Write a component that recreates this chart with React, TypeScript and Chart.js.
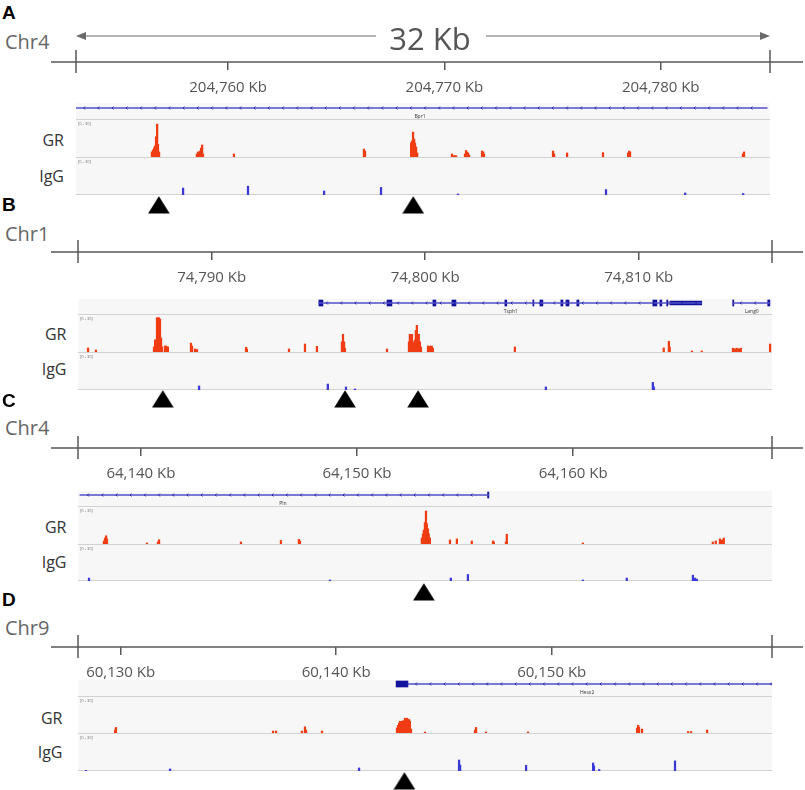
import React, { useEffect, useRef } from "react";
import { Chart, registerables } from "chart.js";

Chart.register(...registerables);

type Pt = [number, number];
type Seg = [number, number];

// ---------------- Panel A : Chr4 ----------------
const rangeA: Seg = [204752.97, 204785.05];
const ticksA = [204760, 204770, 204780];
const grA: Pt[] = [
  [204756.48, 4], [204756.53, 5.5], [204756.58, 7], [204756.62, 8.7], [204756.67, 16], [204756.72, 26], [204756.76, 10], [204756.81, 4],
  [204758.56, 2.4], [204758.61, 4], [204758.66, 3.2], [204758.70, 4.7], [204758.75, 7], [204758.80, 9.5], [204758.84, 2.4],
  [204760.27, 2.4],
  [204766.28, 6.3], [204766.33, 4.7],
  [204768.46, 11], [204768.50, 12.6], [204768.55, 19.7], [204768.60, 14.2], [204768.64, 11], [204768.69, 7.9], [204768.74, 3.2],
  [204770.35, 2.4], [204770.45, 1.2], [204770.54, 1],
  [204770.95, 2.4], [204771.00, 5.1], [204771.04, 4], [204771.09, 3.2], [204771.14, 1.6],
  [204771.74, 4.7], [204771.79, 4], [204771.83, 2.4],
  [204775.02, 4.7], [204775.07, 2.4],
  [204775.67, 3.2],
  [204777.33, 3.5],
  [204778.49, 3.2], [204778.54, 4.7], [204778.58, 4],
  [204783.80, 2.4], [204783.85, 4],
];
const iggA: Pt[] = [
  [204757.92, 5.5], [204760.92, 7], [204764.44, 3.2], [204767.07, 6],
  [204770.63, 0.8], [204777.47, 4.3], [204781.13, 1.6], [204783.81, 1.2],
];
const sitesA = [204756.62, 204768.55];
const intronsA: Seg[] = [[204752.97, 204784.92]];
const exonsA: Seg[] = [];
const utrsA: Seg[] = [];
const namesA: [string, number][] = [["Bpr1", 204768.87]];

// ---------------- Panel B : Chr1 ----------------
const rangeB: Seg = [74783.74, 74816.24];
const ticksB = [74790, 74800, 74810];
const grB: Pt[] = [
  [74784.21, 3.2], [74784.58, 1.6],
  [74787.30, 4], [74787.35, 9.5], [74787.39, 9.5], [74787.44, 27], [74787.49, 27], [74787.53, 27], [74787.58, 26], [74787.63, 11], [74787.67, 4],
  [74787.81, 4.7], [74787.86, 4.7], [74787.91, 4], [74787.95, 4],
  [74789.03, 7], [74789.08, 4.7], [74789.22, 2.4], [74789.31, 2],
  [74791.61, 3.7], [74791.65, 2.4],
  [74793.62, 2.4],
  [74794.37, 6.3],
  [74794.93, 4.5],
  [74796.10, 8], [74796.15, 14], [74796.20, 8], [74796.24, 3],
  [74798.21, 2.4],
  [74799.24, 8], [74799.28, 14], [74799.33, 12], [74799.38, 14], [74799.42, 8], [74799.47, 5], [74799.52, 9.5],
  [74799.56, 17], [74799.61, 21], [74799.66, 12], [74799.70, 14], [74799.75, 8], [74799.80, 4],
  [74800.13, 4.7], [74800.22, 4.7], [74800.31, 4.7], [74800.36, 3],
  [74804.20, 4],
  [74811.17, 3.2], [74811.41, 8.5], [74811.45, 4],
  [74812.49, 0.8], [74812.95, 0.8],
  [74814.41, 3], [74814.50, 2.5], [74814.59, 3], [74814.69, 2.5], [74814.78, 3],
  [74816.15, 6.3],
];
const iggB: Pt[] = [
  [74789.41, 3.2], [74795.44, 4.7], [74796.29, 2.4], [74796.71, 0.8],
  [74805.65, 2.4], [74810.66, 6], [74810.71, 2.4],
];
const sitesB = [74787.53, 74796.19, 74799.66];
const intronsB: Seg[] = [[74795.02, 74812.95], [74814.40, 74816.14]];
const exonsB: Seg[] = [
  [74795.02, 74795.21], [74798.21, 74798.44], [74800.36, 74800.50], [74801.25, 74801.44], [74803.73, 74803.82],
  [74805.04, 74805.09], [74805.37, 74805.51], [74806.35, 74806.45], [74806.59, 74806.73], [74807.10, 74807.20],
  [74810.66, 74810.85], [74810.99, 74811.08], [74811.31, 74811.36], [74814.40, 74814.45], [74816.04, 74816.14],
];
const utrsB: Seg[] = [[74811.46, 74812.95]];
const namesB: [string, number][] = [["Tsph1", 74804.01], ["Lang0", 74815.29]];

// ---------------- Panel C : Chr4 ----------------
const rangeC: Seg = [64137.09, 64169.2];
const ticksC = [64140, 64150, 64160];
const grC: Pt[] = [
  [64138.29, 2.4], [64138.34, 4.7], [64138.39, 6.5], [64138.43, 4],
  [64140.28, 0.8],
  [64140.79, 1.6], [64140.84, 3.4],
  [64144.63, 1.6],
  [64146.48, 2.8],
  [64147.31, 3.7], [64147.36, 2.4],
  [64153.00, 4.7], [64153.05, 8], [64153.09, 11], [64153.14, 17], [64153.19, 26], [64153.23, 16], [64153.28, 12], [64153.32, 8], [64153.37, 4.7],
  [64154.30, 3.2], [64154.62, 4],
  [64155.31, 2.4],
  [64156.29, 2.4], [64156.33, 1.6],
  [64156.89, 1.6], [64156.93, 7.7],
  [64160.45, 0.8],
  [64166.46, 1.6], [64166.60, 2.4], [64166.79, 4], [64166.88, 3.2], [64166.97, 4.7],
];
const iggC: Pt[] = [
  [64137.60, 2.4], [64148.75, 0.8], [64154.34, 2.4], [64155.13, 5.3], [64160.45, 0.8],
  [64162.48, 2.4], [64165.54, 4.7], [64165.63, 2.4], [64165.72, 1.6],
];
const sitesC = [64153.09];
const intronsC: Seg[] = [[64137.18, 64156.10]];
const exonsC: Seg[] = [[64156.04, 64156.10]];
const utrsC: Seg[] = [];
const namesC: [string, number][] = [["Pln", 64146.57]];

// ---------------- Panel D : Chr9 ----------------
const rangeD: Seg = [60128.02, 60160.22];
const ticksD = [60130, 60140, 60150];
const grD: Pt[] = [
  [60129.74, 2.4], [60129.78, 4.5],
  [60137.07, 1.6], [60137.21, 1.6],
  [60138.41, 1.6], [60138.55, 5], [60138.60, 2.4],
  [60139.34, 1.6],
  [60142.82, 4], [60142.87, 6.3], [60142.92, 8], [60142.96, 9.5], [60143.01, 8.7], [60143.05, 9.5], [60143.10, 10], [60143.15, 8.7],
  [60143.19, 12], [60143.24, 11], [60143.29, 12], [60143.33, 9.5], [60143.38, 11], [60143.42, 9.5], [60143.47, 3.2],
  [60144.12, 0.8],
  [60146.44, 2.4], [60146.49, 4.5],
  [60146.95, 0.8],
  [60148.90, 0.8],
  [60153.96, 4], [60154.01, 6.3], [60154.05, 4.7], [60154.19, 3.2],
  [60156.33, 1.2], [60156.47, 1.2],
  [60157.21, 2.4],
];
const iggD: Pt[] = [
  [60128.39, 0.5], [60132.29, 1.6], [60141.06, 2.4], [60145.70, 8.7], [60145.75, 4.7],
  [60148.81, 4.5], [60151.92, 6.3], [60151.96, 4], [60152.20, 1.2], [60155.72, 8],
];
const sitesD = [60143.15];
const intronsD: Seg[] = [[60143.33, 60160.36]];
const exonsD: Seg[] = [[60142.78, 60143.33]];
const utrsD: Seg[] = [];
const namesD: [string, number][] = [["Hesx2", 60151.64]];

const trackRangeLabel = "[0 - 30]";
const trackMax = 30;
const spanLabel = "32 Kb";

// ---------------- styles / layout ----------------
const FONT = "'Open Sans', 'DejaVu Sans', sans-serif";
const RULER = "#585858";
const GR_COLOR = "#f03c14";
const IGG_COLOR = "#3a3ad8";
const GENE_LINE = "#5050c8";
const GENE_EXON = "#12129c";
const TRACK_BG = "#f7f7f7";
const TRACK_LINE = "#d2d2d2";

interface Layout {
  letter: string; letterTop: number;
  chrTop: number;
  x0: number; x1: number;
  rulerY: number;
  geneTop: number; geneLineY: number;
  grTop: number; iggTop: number; iggBottom: number;
  triTop: number;
  grLabelTop: number; iggLabelTop: number; labelRight: number;
  span?: { dy: number; gapL: number; gapR: number };
}

const RULER_AREA = 52;

const layouts: Layout[] = [
  { letter: "A", letterTop: 2.5, chrTop: 31.5, x0: 76, x1: 770, rulerY: 62,
    geneTop: 103, geneLineY: 108, grTop: 119, iggTop: 157, iggBottom: 195, triTop: 196,
    grLabelTop: 132, iggLabelTop: 168, labelRight: 64, span: { dy: 26, gapL: 376, gapR: 486 } },
  { letter: "B", letterTop: 194.5, chrTop: 223.5, x0: 78, x1: 772, rulerY: 252,
    geneTop: 299, geneLineY: 303, grTop: 314, iggTop: 352, iggBottom: 390, triTop: 390,
    grLabelTop: 326, iggLabelTop: 361, labelRight: 66.5 },
  { letter: "C", letterTop: 390.5, chrTop: 418, x0: 78, x1: 772, rulerY: 448,
    geneTop: 491, geneLineY: 495, grTop: 506, iggTop: 544, iggBottom: 581, triTop: 583,
    grLabelTop: 519, iggLabelTop: 554, labelRight: 66.5 },
  { letter: "D", letterTop: 589.5, chrTop: 618, x0: 78, x1: 772, rulerY: 647,
    geneTop: 680, geneLineY: 684, grTop: 696, iggTop: 733, iggBottom: 771, triTop: 772,
    grLabelTop: 710, iggLabelTop: 744, labelRight: 62.5 },
];

const panels = [
  { chr: "Chr4", range: rangeA, ticks: ticksA, gr: grA, igg: iggA, sites: sitesA, introns: intronsA, exons: exonsA, utrs: utrsA, names: namesA },
  { chr: "Chr1", range: rangeB, ticks: ticksB, gr: grB, igg: iggB, sites: sitesB, introns: intronsB, exons: exonsB, utrs: utrsB, names: namesB },
  { chr: "Chr4", range: rangeC, ticks: ticksC, gr: grC, igg: iggC, sites: sitesC, introns: intronsC, exons: exonsC, utrs: utrsC, names: namesC },
  { chr: "Chr9", range: rangeD, ticks: ticksD, gr: grD, igg: iggD, sites: sitesD, introns: intronsD, exons: exonsD, utrs: utrsD, names: namesD },
];

// ---------------- plugins ----------------
const rulerPlugin = {
  id: "ruler",
  afterDraw(chart: any, _a: any, opts: any) {
    const sx = chart.scales.x;
    const ctx = chart.ctx as CanvasRenderingContext2D;
    const y = sx.top;
    ctx.save();
    ctx.strokeStyle = RULER;
    ctx.lineWidth = 1.5;
    ctx.beginPath();
    ctx.moveTo(opts.from, y);
    ctx.lineTo(opts.to, y);
    for (const v of [sx.min, sx.max]) {
      const x = sx.getPixelForValue(v);
      ctx.moveTo(x, y - 12);
      ctx.lineTo(x, y + 11);
    }
    ctx.stroke();
    if (opts.span) {
      const xl = sx.getPixelForValue(sx.min);
      const xr = sx.getPixelForValue(sx.max);
      const ay = y - opts.span.dy;
      ctx.strokeStyle = "#6a6a6a";
      ctx.fillStyle = "#6a6a6a";
      ctx.lineWidth = 1;
      ctx.beginPath();
      ctx.moveTo(xl + 8, ay);
      ctx.lineTo(opts.span.gapL, ay);
      ctx.moveTo(opts.span.gapR, ay);
      ctx.lineTo(xr - 8, ay);
      ctx.stroke();
      ctx.beginPath();
      ctx.moveTo(xl, ay); ctx.lineTo(xl + 10, ay - 4); ctx.lineTo(xl + 10, ay + 4); ctx.closePath();
      ctx.moveTo(xr, ay); ctx.lineTo(xr - 10, ay - 4); ctx.lineTo(xr - 10, ay + 4); ctx.closePath();
      ctx.fill();
    }
    ctx.restore();
  },
};

const trackPlugin = {
  id: "track",
  beforeDatasetsDraw(chart: any, _a: any, opts: any) {
    const ctx = chart.ctx as CanvasRenderingContext2D;
    const { left, top, right, bottom } = chart.chartArea;
    ctx.save();
    ctx.fillStyle = TRACK_BG;
    ctx.fillRect(left, top, right - left, bottom - top);
    ctx.strokeStyle = TRACK_LINE;
    ctx.lineWidth = 1;
    ctx.beginPath();
    ctx.moveTo(left, top + 0.5);
    ctx.lineTo(right, top + 0.5);
    if (opts.bottom) {
      ctx.moveTo(left, bottom - 0.5);
      ctx.lineTo(right, bottom - 0.5);
    }
    ctx.stroke();
    ctx.fillStyle = "#777";
    ctx.font = `4px ${FONT}`;
    ctx.textBaseline = "top";
    ctx.fillText(opts.label, left + 2, top + 3);
    ctx.restore();
  },
};

const genePlugin = {
  id: "gene",
  beforeDatasetsDraw(chart: any) {
    const ctx = chart.ctx as CanvasRenderingContext2D;
    const { left, top, right, bottom } = chart.chartArea;
    ctx.save();
    ctx.fillStyle = TRACK_BG;
    ctx.fillRect(left, top, right - left, bottom - top);
    ctx.restore();
  },
  afterDatasetsDraw(chart: any, _a: any, opts: any) {
    const ctx = chart.ctx as CanvasRenderingContext2D;
    const sx = chart.scales.x;
    const y0 = chart.scales.y.getPixelForValue(0);
    ctx.save();
    ctx.strokeStyle = GENE_EXON;
    ctx.lineWidth = 0.8;
    ctx.beginPath();
    for (const [s, e] of opts.introns as Seg[]) {
      const a = sx.getPixelForValue(s);
      const b = sx.getPixelForValue(e);
      for (let x = a + 8; x < b - 4; x += 14.2) {
        ctx.moveTo(x + 1, y0 - 1.5);
        ctx.lineTo(x - 0.5, y0);
        ctx.lineTo(x + 1, y0 + 1.5);
      }
    }
    ctx.stroke();
    ctx.fillStyle = "#333";
    ctx.font = `5px ${FONT}`;
    ctx.textAlign = "center";
    ctx.textBaseline = "middle";
    for (const [name, kb] of opts.names as [string, number][]) {
      ctx.fillText(name, sx.getPixelForValue(kb), y0 + 8.5);
    }
    ctx.restore();
  },
};

// ---------------- configs ----------------
const baseOptions = {
  animation: false,
  responsive: false,
  maintainAspectRatio: false,
  events: [],
};

function rulerConfig(p: any, L: Layout) {
  return {
    type: "scatter",
    data: { datasets: [] },
    options: {
      ...baseOptions,
      layout: { padding: { left: L.x0, right: 805 - L.x1, top: 0, bottom: 0 } },
      plugins: {
        legend: { display: false },
        tooltip: { enabled: false },
        ruler: { from: 51, to: 803, span: L.span },
      },
      scales: {
        x: {
          type: "linear",
          position: "bottom",
          min: p.range[0],
          max: p.range[1],
          afterBuildTicks: (s: any) => {
            s.ticks = p.ticks.map((v: number) => ({ value: v }));
          },
          ticks: {
            autoSkip: false,
            maxRotation: 0,
            minRotation: 0,
            padding: 9,
            color: "#555",
            font: { family: FONT, size: 15 },
            callback: (v: any) => Number(v).toLocaleString("en-US") + " Kb",
          },
          grid: { drawOnChartArea: false, drawTicks: true, tickLength: 8, color: RULER, lineWidth: 1.5 },
          border: { display: false },
        },
        y: { display: false, min: 0, max: 1 },
      },
    },
    plugins: [rulerPlugin],
  };
}

function geneConfig(p: any, L: Layout) {
  const H = L.grTop - L.geneTop;
  const o = L.geneLineY - L.geneTop;
  const seg = (arr: Seg[]) => arr.map(([s, e]) => ({ x: [s, e], y: 0 }));
  return {
    type: "bar",
    data: {
      datasets: [
        { data: seg(p.introns), backgroundColor: GENE_LINE, barThickness: 1, grouped: false, borderWidth: 0 },
        { data: seg(p.utrs), backgroundColor: GENE_EXON, barThickness: 4, grouped: false, borderWidth: 0 },
        { data: seg(p.exons), backgroundColor: GENE_EXON, barThickness: 6, grouped: false, borderWidth: 0 },
      ],
    },
    options: {
      ...baseOptions,
      indexAxis: "y",
      layout: { padding: 0 },
      plugins: {
        legend: { display: false },
        tooltip: { enabled: false },
        gene: { introns: p.introns, names: p.names },
      },
      scales: {
        x: { type: "linear", min: p.range[0], max: p.range[1], display: false, offset: false },
        y: { type: "linear", min: o - H, max: o, display: false, offset: false },
      },
    },
    plugins: [genePlugin],
  };
}

function trackConfig(p: any, pts: Pt[], color: string, bottom: boolean) {
  return {
    type: "bar",
    data: {
      datasets: [
        { data: pts.map(([x, y]) => ({ x, y })), backgroundColor: color, barThickness: 1.6, borderWidth: 0 },
      ],
    },
    options: {
      ...baseOptions,
      layout: { padding: 0 },
      plugins: {
        legend: { display: false },
        tooltip: { enabled: false },
        track: { bottom, label: trackRangeLabel },
      },
      scales: {
        x: { type: "linear", min: p.range[0], max: p.range[1], display: false, offset: false },
        y: { type: "linear", min: 0, max: trackMax, display: false },
      },
    },
    plugins: [trackPlugin],
  };
}

let triImage: HTMLCanvasElement | null = null;
function getTriangle() {
  if (!triImage) {
    const c = document.createElement("canvas");
    c.width = 22;
    c.height = 18;
    const ctx = c.getContext("2d")!;
    ctx.fillStyle = "#000";
    ctx.beginPath();
    ctx.moveTo(11, 0.3);
    ctx.lineTo(21.8, 17.6);
    ctx.lineTo(0.2, 17.6);
    ctx.closePath();
    ctx.fill();
    triImage = c;
  }
  return triImage;
}

function siteConfig(p: any) {
  return {
    type: "scatter",
    data: {
      datasets: [
        { data: p.sites.map((x: number) => ({ x, y: 0 })), pointStyle: getTriangle(), radius: 3, clip: false },
      ],
    },
    options: {
      ...baseOptions,
      layout: { padding: 0 },
      plugins: { legend: { display: false }, tooltip: { enabled: false } },
      scales: {
        x: { type: "linear", min: p.range[0], max: p.range[1], display: false },
        y: { type: "linear", min: -1, max: 1, display: false },
      },
    },
  };
}

// ---------------- components ----------------
function ChartBox({ left, top, width, height, make }: { left: number; top: number; width: number; height: number; make: () => any }) {
  const ref = useRef<HTMLCanvasElement>(null);
  useEffect(() => {
    const chart = new Chart(ref.current as HTMLCanvasElement, make());
    return () => chart.destroy();
  }, []);
  return (
    <canvas
      ref={ref}
      width={width}
      height={height}
      style={{ position: "absolute", left, top, width, height, display: "block" }}
    />
  );
}

function Text({ children, left, top, width, size, color, bold, align, family }: any) {
  return (
    <div
      style={{
        position: "absolute",
        left,
        top,
        width,
        fontFamily: family || FONT,
        fontSize: size,
        lineHeight: `${size}px`,
        fontWeight: bold ? 700 : 400,
        color,
        textAlign: align || "left",
        whiteSpace: "nowrap",
      }}
    >
      {children}
    </div>
  );
}

const AXIS_H = 8 + 18 + 18;

function Panel({ p, L }: { p: any; L: Layout }) {
  const w = L.x1 - L.x0;
  return (
    <>
      <Text left={2} top={L.letterTop} size={19} bold color="#000" family="'Liberation Sans', Arial, sans-serif">{L.letter}</Text>
      <Text left={5} top={L.chrTop} size={20} color="#666">{p.chr}</Text>
      <Text left={0} width={L.labelRight} align="right" top={L.grLabelTop} size={16} color="#333">GR</Text>
      <Text left={0} width={L.labelRight} align="right" top={L.iggLabelTop} size={16} color="#333">IgG</Text>
      <ChartBox left={L.x0} top={L.geneTop} width={w} height={L.grTop - L.geneTop} make={() => geneConfig(p, L)} />
      <ChartBox left={L.x0} top={L.grTop} width={w} height={L.iggTop - L.grTop} make={() => trackConfig(p, p.gr, GR_COLOR, false)} />
      <ChartBox left={L.x0} top={L.iggTop} width={w} height={L.iggBottom - L.iggTop} make={() => trackConfig(p, p.igg, IGG_COLOR, true)} />
      <ChartBox left={0} top={L.rulerY - RULER_AREA} width={805} height={RULER_AREA + AXIS_H} make={() => rulerConfig(p, L)} />
      <ChartBox left={L.x0} top={L.triTop - 1} width={w} height={20} make={() => siteConfig(p)} />
    </>
  );
}

export default function App() {
  return (
    <div style={{ position: "absolute", left: 0, top: 0, width: 805, height: 790, background: "#fff", overflow: "hidden" }}>
      {panels.map((p, i) => (
        <Panel key={i} p={p} L={layouts[i]} />
      ))}
      <Text left={370} width={120} align="center" top={22.5} size={31} color="#555">{spanLabel}</Text>
    </div>
  );
}
